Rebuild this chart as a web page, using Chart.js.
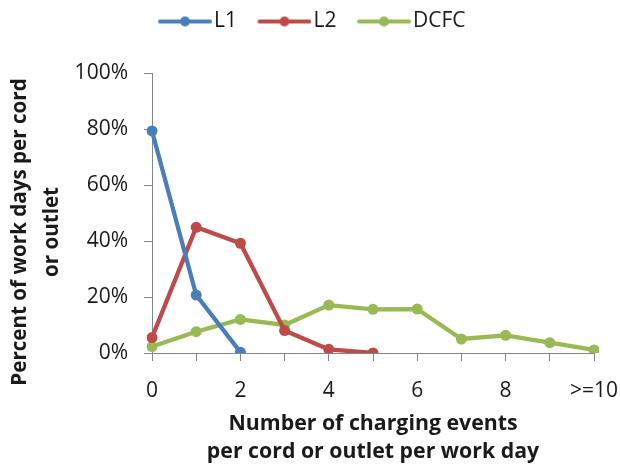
<!DOCTYPE html>
<html>
<head>
<meta charset="utf-8">
<script src="https://cdn.jsdelivr.net/npm/chart.js@4.4.1/dist/chart.umd.min.js"></script>
<style>
  html, body { margin: 0; padding: 0; background: #fff; }
  #wrap { width: 620px; height: 468px; }
</style>
</head>
<body>
<div id="wrap"><canvas id="evChart" width="620" height="468"></canvas></div>
<script>
// categories: charging events per cord/outlet per work day
const categories = ['0', '1', '2', '3', '4', '5', '6', '7', '8', '9', '>=10'];

// percent of work days
const l1Values = [79.3, 20.7, 0.3];
const l2Values = [5.5, 44.9, 39.2, 8.0, 1.3, 0.0];
const dcfcValues = [2.3, 7.6, 12.0, 10.0, 17.1, 15.6, 15.7, 5.0, 6.3, 3.7, 1.1];

const yTicks = [0, 20, 40, 60, 80, 100];
const yTitleLines = ['Percent of work days per cord', 'or outlet'];
const xTitleLines = ['Number of charging events', 'per cord or outlet per work day'];

const colors = { L1: '#4A7EBB', L2: '#BE4B48', DCFC: '#98B954' };
const axisGray = '#868686';
const textColor = '#1a1a1a';
const fontFamily = '"Open Sans", Lato, sans-serif';

// legend symbol: line with a dot, drawn at the right end of a small canvas
const symW = 55;
const symCanvasW = 72;
function legendSymbol(color) {
    const c = document.createElement('canvas');
    c.width = symCanvasW;
    c.height = 12;
    const g = c.getContext('2d');
    const x0 = symCanvasW - 54;
    g.strokeStyle = color;
    g.lineWidth = 4;
    g.lineCap = 'round';
    g.beginPath();
    g.moveTo(x0 + 2, 6);
    g.lineTo(x0 + 52, 6);
    g.stroke();
    g.fillStyle = color;
    g.beginPath();
    g.arc(x0 + 27, 6, 5, 0, Math.PI * 2);
    g.fill();
    return c;
}

function makeSet(label, data) {
    return {
        label: label,
        data: data,
        borderColor: colors[label],
        backgroundColor: colors[label],
        borderWidth: 4.3,
        pointRadius: 5.5,
        pointHoverRadius: 5.5,
        pointBorderWidth: 0,
        pointStyle: 'circle',
        tension: 0
    };
}

// fixed legend height so the plot starts where the reference does
const legendHeight = {
    id: 'legendHeight',
    beforeInit(chart) {
        const lg = chart.legend;
        const origFit = lg.fit;
        lg.fit = function() {
            origFit.call(this);
            this.height = 73;
        };
    }
};

// the y title sits a bit below the middle of the axis in the original
const yTitle = {
    id: 'yTitle',
    afterDraw(chart) {
        const g = chart.ctx;
        const y = chart.scales.y;
        const cy = (y.top + y.bottom) / 2 + 19;
        g.save();
        g.fillStyle = textColor;
        g.font = 'bold 20.6px ' + fontFamily;
        g.textAlign = 'center';
        g.textBaseline = 'middle';
        yTitleLines.forEach((line, i) => {
            g.save();
            g.translate(20 + i * 32, cy);
            g.rotate(-Math.PI / 2);
            g.fillText(line, 0, 0);
            g.restore();
        });
        g.restore();
    }
};

const ctx = document.getElementById('evChart').getContext('2d');
const evChart = new Chart(ctx, {
    type: 'line',
    data: {
        labels: categories,
        datasets: [
            makeSet('L1', l1Values),
            makeSet('L2', l2Values),
            makeSet('DCFC', dcfcValues)
        ]
    },
    plugins: [legendHeight, yTitle],
    options: {
        responsive: false,
        animation: false,
        layout: { padding: { top: 0, right: 11, left: 5, bottom: 0 } },
        plugins: {
            tooltip: { enabled: false },
            legend: {
                position: 'top',
                labels: {
                    usePointStyle: true,
                    pointStyleWidth: symW,
                    color: textColor,
                    font: { family: fontFamily, size: 21 },
                    padding: 11,
                    generateLabels: function(chart) {
                        return chart.data.datasets.map((ds, i) => ({
                            text: ds.label,
                            pointStyle: legendSymbol(ds.borderColor),
                            fillStyle: ds.borderColor,
                            strokeStyle: ds.borderColor,
                            lineWidth: 0,
                            fontColor: textColor,
                            datasetIndex: i
                        }));
                    }
                }
            }
        },
        scales: {
            x: {
                type: 'category',
                offset: false,
                afterFit: function(scale) {
                    scale.height = 115;
                    scale.paddingRight = 26;
                },
                grid: { drawOnChartArea: false, drawTicks: true, tickLength: 8, color: axisGray },
                border: { color: axisGray, width: 1 },
                ticks: {
                    autoSkip: false,
                    maxRotation: 0,
                    color: textColor,
                    font: { family: fontFamily, size: 21 },
                    padding: 17,
                    callback: function(value, index) {
                        return index % 2 === 0 ? categories[index] : '';
                    }
                },
                title: {
                    display: true,
                    text: xTitleLines,
                    color: textColor,
                    font: { family: fontFamily, size: 21.3, weight: 'bold', lineHeight: '28px' },
                    padding: { top: 0, bottom: 2 }
                }
            },
            y: {
                min: 0,
                max: 100,
                afterFit: function(scale) { scale.width = 147; },
                afterBuildTicks: function(scale) {
                    scale.ticks = yTicks.map(v => ({ value: v }));
                },
                grid: { drawOnChartArea: false, drawTicks: true, tickLength: 8, color: axisGray },
                border: { color: axisGray, width: 1 },
                ticks: {
                    color: textColor,
                    font: { family: fontFamily, size: 21 },
                    padding: 16,
                    callback: function(value) { return value + '%'; }
                },
                title: { display: false }
            }
        }
    }
});
</script>
</body>
</html>
